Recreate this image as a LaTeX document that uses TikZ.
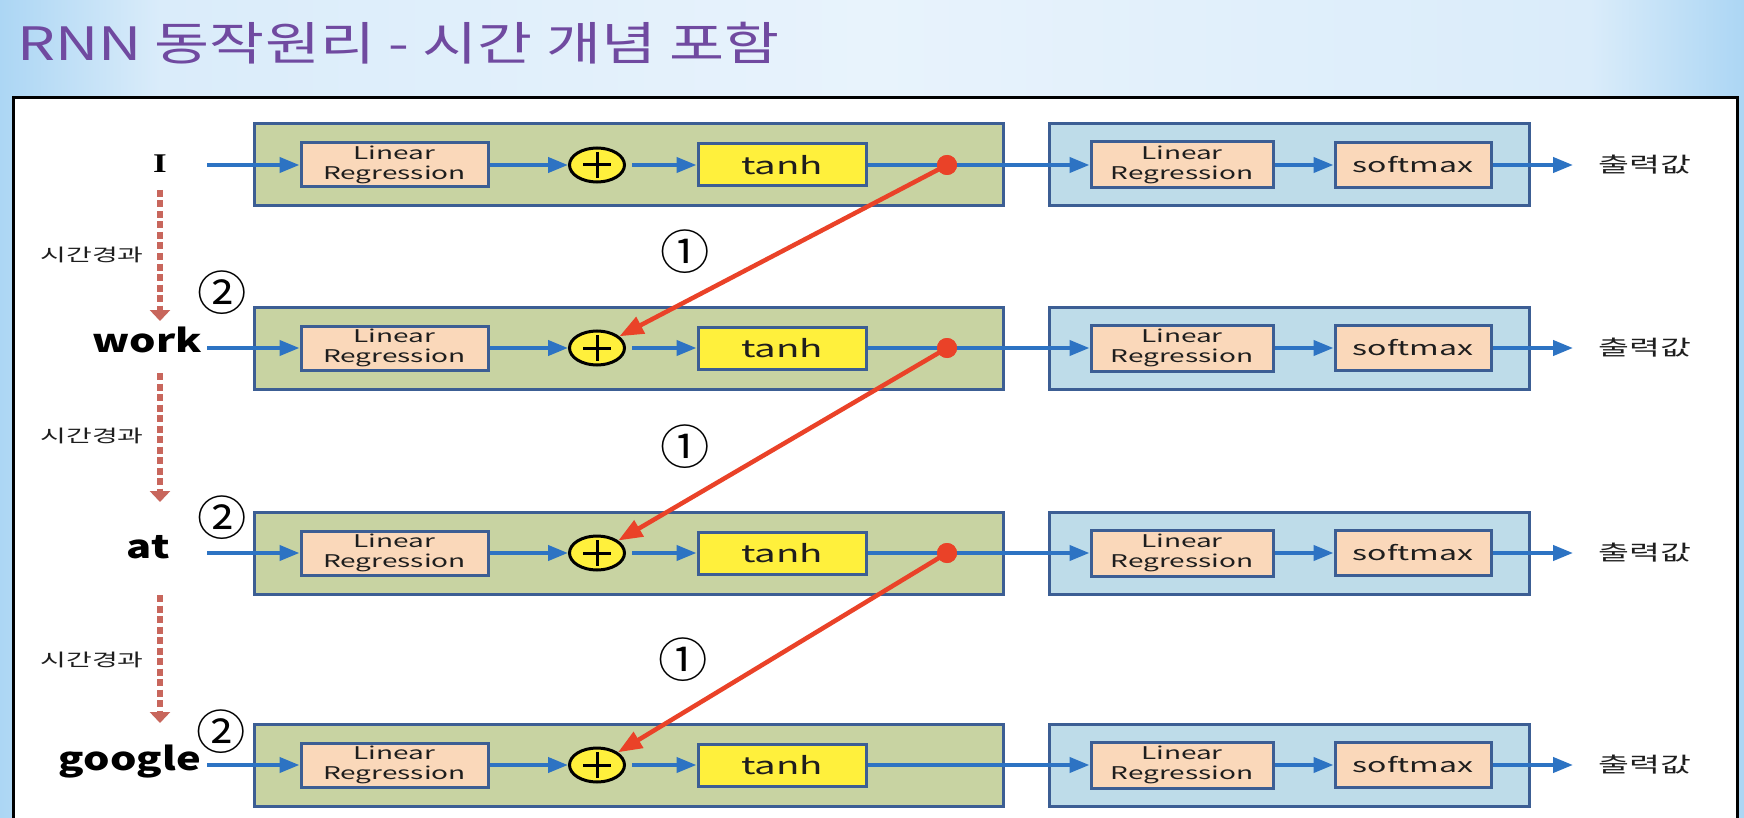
\documentclass[tikz,border=0pt]{standalone}
\usepackage{fontspec}
\setmainfont{Noto Sans CJK KR}
\newfontfamily\boxfont[FakeStretch=1.6]{Noto Sans CJK KR}
\newfontfamily\wordfont[FakeStretch=1.3]{Noto Sans CJK KR}
\newfontfamily\titlefont[FakeStretch=1.3]{Noto Sans CJK KR}
\newfontfamily\numfont[FakeStretch=1.05]{Noto Sans CJK KR}
\newfontfamily\Ifont[FakeStretch=1.3]{Liberation Serif}
\usetikzlibrary{arrows.meta,shapes.geometric}
\definecolor{bgE}{RGB}{172,214,244}
\definecolor{bgN}{RGB}{218,236,250}
\definecolor{bgM}{RGB}{232,243,252}
\definecolor{titlec}{RGB}{112,74,160}
\definecolor{greenf}{RGB}{200,211,162}
\definecolor{bluef}{RGB}{190,220,233}
\definecolor{borderc}{RGB}{60,94,148}
\definecolor{peach}{RGB}{250,216,186}
\definecolor{yellowf}{RGB}{255,240,60}
\definecolor{arrowb}{RGB}{45,115,195}
\definecolor{redc}{RGB}{234,66,40}
\definecolor{dashc}{RGB}{200,102,92}
\definecolor{textc}{RGB}{30,30,30}
\begin{document}
\begin{tikzpicture}[x=1pt,y=-1pt,
  greenbox/.style={draw=borderc,line width=3pt,fill=greenf,minimum width=749pt,minimum height=82pt,inner sep=0pt},
  bluebox/.style={draw=borderc,line width=3pt,fill=bluef,minimum width=480pt,minimum height=82pt,inner sep=0pt},
  lrbox/.style={draw=borderc,line width=3pt,fill=peach,inner sep=0pt,align=center,
     font=\boxfont\fontsize{17.5}{19.5}\selectfont,text=textc},
  tanhbox/.style={draw=borderc,line width=3pt,fill=yellowf,minimum width=168pt,minimum height=42pt,inner sep=0pt,
     font=\boxfont\fontsize{24}{26}\selectfont,text=textc},
  plusnode/.style={ellipse,draw=black,line width=3pt,fill=yellowf,minimum width=55pt,minimum height=34pt,inner sep=0pt},
  reddot/.style={circle,fill=redc,minimum size=20pt,inner sep=0pt},
  barrow/.style={draw=arrowb,line width=4pt,-{Triangle[length=20pt,width=15pt]}},
  rarrow/.style={draw=redc,line width=4.5pt,-{Triangle[length=24pt,width=18pt]}},
  darrow/.style={draw=dashc,line width=6pt,dash pattern=on 7pt off 3.5pt,-{Triangle[length=11pt,width=20pt]}},
  wordtxt/.style={font=\wordfont\bfseries\fontsize{32}{36}\selectfont,text=black,inner sep=0pt},
  timetxt/.style={font=\boxfont\fontsize{17.5}{19}\selectfont,text=textc,inner sep=0pt},
  numtxt/.style={font=\numfont\fontsize{47}{49}\selectfont,text=black,inner sep=0pt},
  outtxt/.style={font=\boxfont\fontsize{21}{23}\selectfont,text=textc,inner sep=0pt}
]
\useasboundingbox (0,0) rectangle (1744,818);
\shade[left color=bgE,right color=bgN] (0,0) rectangle (160,818);
\shade[left color=bgN,right color=bgM] (160,0) rectangle (872,818);
\shade[left color=bgM,right color=bgN] (872,0) rectangle (1590,818);
\shade[left color=bgN,right color=bgE] (1590,0) rectangle (1744,818);
\node[anchor=base west,inner sep=0pt,text=titlec,font=\titlefont\fontsize{46}{50}\selectfont] (title) at (17,61) {RNN 동작원리 - 시간 개념 포함};
\draw[line width=3pt,fill=white] (13,98) rectangle (1737,845);

\foreach \i/\y in {1/165,2/348,3/553,4/765}{
  \node[greenbox] (g\i) at (628.5,\y) {};
  \node[bluebox] (b\i) at (1289,\y) {};
  \node[lrbox,minimum width=187pt,minimum height=44pt] (lr\i) at (394.5,\y) {Linear\\Regression};
  \node[plusnode] (p\i) at (597,\y) {};
  \draw[line width=3pt] (p\i.center) ++(-14,0) -- ++(28,0);
  \draw[line width=3pt] (p\i.center) ++(0,-13) -- ++(0,26);
  \node[tanhbox] (t\i) at (782,\y) {tanh};
  \node[lrbox,minimum width=182pt,minimum height=46pt] (rl\i) at (1182,\y) {Linear\\Regression};
  \node[lrbox,minimum width=156pt,minimum height=45pt,font=\boxfont\fontsize{20}{22}\selectfont] (sm\i) at (1413,\y) {softmax};
  \node[outtxt] (o\i) at (1645,\y) {출력값};
  \coordinate (s\i) at (207,\y);
  \coordinate (e\i) at (1573,\y);
  \draw[barrow] (s\i) -- (lr\i.west);
  \draw[barrow] (lr\i.east) -- (p\i);
  \draw[barrow,shorten <=6pt] (p\i) -- (t\i.west);
  \draw[barrow] (t\i.east) -- (rl\i.west);
  \draw[barrow] (rl\i.east) -- (sm\i.west);
  \draw[barrow] (sm\i.east) -- (e\i);
}
\node[reddot] (r1) at (947,165) {};
\node[reddot] (r2) at (947,348) {};
\node[reddot] (r3) at (947,553) {};

% input words
\node[anchor=base east,inner sep=0pt,font=\Ifont\bfseries\fontsize{27}{29}\selectfont] (w1) at (167,173) {I};
\node[wordtxt,anchor=base east] (w2) at (202,352) {work};
\node[wordtxt,anchor=base east] (w3) at (170,558) {at};
\node[wordtxt,anchor=base east] (w4) at (201,770) {google};

% recurrent red arrows
\draw[rarrow] (r1.center) -- (p2);
\draw[rarrow] (r2.center) -- (p3);
\draw[rarrow] (r3.center) -- (p4);
\node[reddot] at (r1) {};
\node[reddot] at (r2) {};
\node[reddot] at (r3) {};

% time arrows
\coordinate (d1a) at (160,190); \coordinate (d1b) at (160,321);
\coordinate (d2a) at (160,373); \coordinate (d2b) at (160,502);
\coordinate (d3a) at (160,595); \coordinate (d3b) at (160,723);
\draw[darrow] (d1a) -- (d1b);
\draw[darrow] (d2a) -- (d2b);
\draw[darrow] (d3a) -- (d3b);
\node[timetxt] (tl1) at (92,255) {시간경과};
\node[timetxt] (tl2) at (92,436) {시간경과};
\node[timetxt] (tl3) at (92,660) {시간경과};

% circled numbers
\node[numtxt] (n1a) at (685,252) {①};
\node[numtxt] (n1b) at (685,447) {①};
\node[numtxt] (n1c) at (683,660) {①};
\node[numtxt] (n2a) at (222,293) {②};
\node[numtxt] (n2b) at (222,518) {②};
\node[numtxt] (n2c) at (221,732) {②};
\end{tikzpicture}
\end{document}
